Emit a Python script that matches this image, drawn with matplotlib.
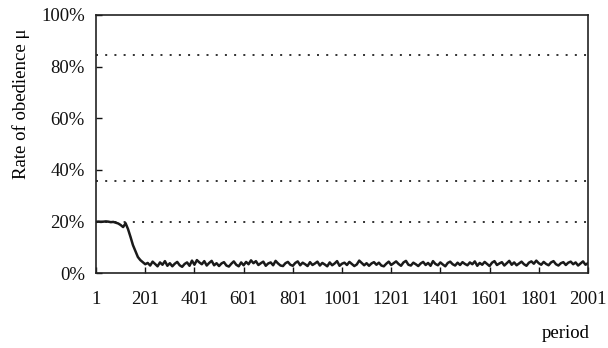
import numpy as np
import matplotlib
matplotlib.use("Agg")
import matplotlib.pyplot as plt

# Obedience rate (%) sampled every 10 periods, from period 1 to 2001
periods = list(range(1, 2002, 10))
obedience = [
    19.8, 19.9, 19.8, 19.9, 20.0, 19.9, 19.7, 19.8, 19.5, 19.2,
    18.6, 17.8, 19.3, 17.0, 14.0, 10.8, 8.5, 6.2, 5.0, 4.2, 3.4,
    3.9, 2.9, 4.4, 3.5, 2.6, 4.1, 3.2, 4.6, 2.8, 3.8,
    2.6, 3.6, 4.3, 3.0, 2.4, 3.5, 4.1, 2.8, 4.8, 3.2,
    5.0, 4.1, 3.4, 4.6, 2.9, 3.9, 4.7, 3.0, 3.8, 2.7,
    3.7, 4.2, 2.9, 2.5, 3.6, 4.5, 3.2, 2.6, 4.1, 3.0,
    4.3, 3.4, 4.9, 3.8, 4.6, 3.1, 3.8, 4.4, 2.8, 3.7,
    4.1, 3.0, 4.7, 3.7, 2.9, 2.7, 3.8, 4.3, 3.2, 2.8,
    3.9, 4.5, 3.0, 4.0, 3.4, 2.7, 4.2, 3.1, 3.7, 4.4,
    2.9, 3.9, 3.3, 2.6, 4.1, 3.0, 3.7, 4.6, 2.8, 3.6,
    4.0, 3.1, 4.3, 3.5, 2.7, 3.3, 4.8, 3.9, 3.0, 3.8,
    2.8, 3.7, 4.2, 3.2, 4.0, 2.9, 2.6, 3.6, 4.4, 3.1,
    3.8, 4.5, 3.5, 2.8, 4.1, 4.7, 3.2, 2.9, 4.0, 3.4,
    2.7, 3.7, 4.3, 3.1, 3.9, 2.8, 4.6, 3.5, 3.0, 4.1,
    3.3, 2.6, 3.9, 4.4, 3.4, 2.9, 4.0, 3.1, 4.2, 3.5,
    3.0, 4.1, 3.4, 4.5, 2.8, 3.9, 3.2, 4.3, 3.5, 2.7,
    4.0, 4.6, 3.1, 3.7, 4.2, 2.9, 3.8, 4.7, 3.2, 4.1,
    3.0, 3.7, 4.4, 3.4, 2.8, 4.0, 4.5, 3.6, 4.8, 3.8,
    3.2, 4.3, 3.5, 3.0, 4.1, 4.6, 3.4, 2.9, 3.8, 4.2,
    3.1, 4.0, 4.4, 3.4, 4.1, 2.9, 3.7, 4.5, 3.2, 3.8,
]

# Reference levels drawn as dotted lines (%)
reference_levels = [84.5, 35.7, 19.8]

x_ticks = list(range(1, 2002, 200))
y_ticks = [0, 20, 40, 60, 80, 100]
y_ticklabels = ["0%", "20%", "40%", "60%", "80%", "100%"]

plt.rcParams["font.family"] = ["Liberation Serif", "DejaVu Serif"]

fig = plt.figure(figsize=(6.08, 3.48), dpi=100)
ax = fig.add_axes([0.158, 0.2155, 0.809, 0.7415])

for lvl in reference_levels:
    ax.axhline(lvl, color="#222222", lw=1.3, linestyle=(0, (1.1, 4.0)))

ax.plot(periods, obedience, color="#1a1a1a", lw=1.8)

ax.set_xlim(1, 2001)
ax.set_ylim(0, 100)
ax.set_xticks(x_ticks)
ax.set_xticklabels([str(t) for t in x_ticks])
ax.set_yticks(y_ticks)
ax.set_yticklabels(y_ticklabels)
ax.tick_params(axis="both", direction="in", length=4, width=1.0,
               labelsize=13.5, colors="#111111")
ax.tick_params(axis="x", pad=13)
ax.tick_params(axis="y", pad=8)
for sp in ax.spines.values():
    sp.set_linewidth(1.2)
    sp.set_color("#222222")

ax.set_ylabel("Rate of obedience μ", fontsize=13.5)
ax.yaxis.set_label_coords(-0.135, 0.655)
fig.text(0.93, 0.043, "period", fontsize=13.5, ha="center", va="center")

fig.savefig("out.png", dpi=100)
